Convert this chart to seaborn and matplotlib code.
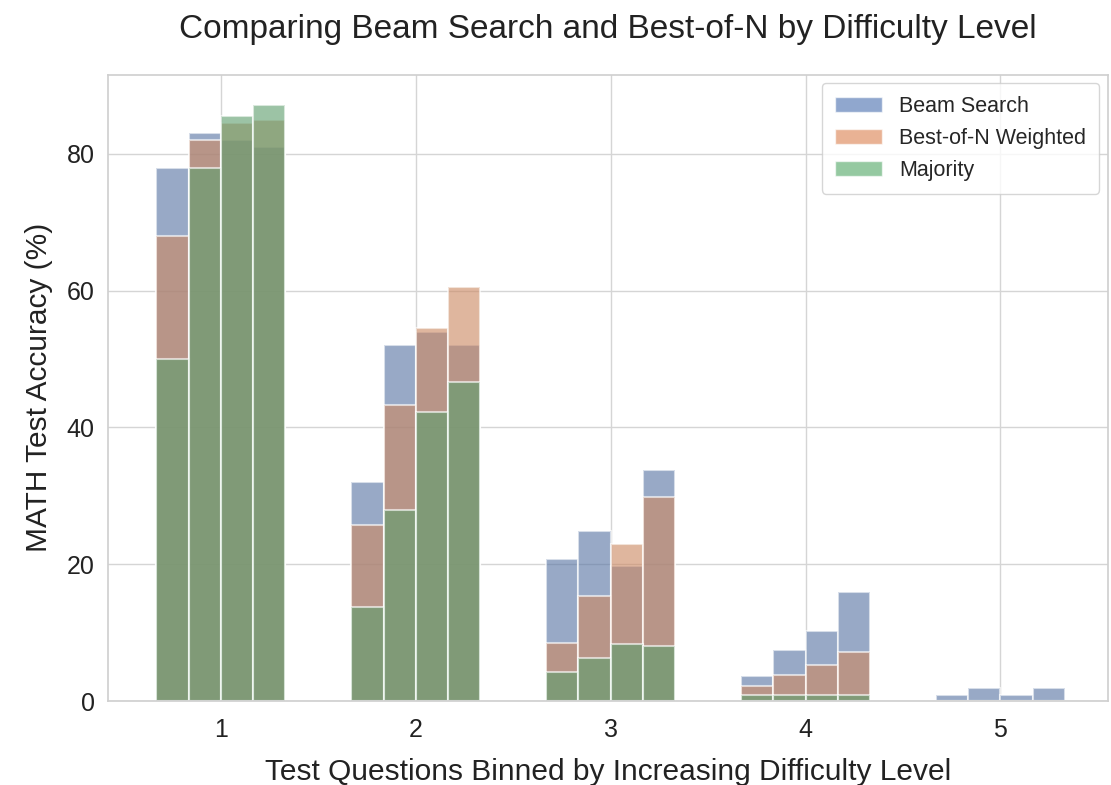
import matplotlib
matplotlib.use("Agg")
import matplotlib.pyplot as plt
import matplotlib.patches as mpatches
import seaborn as sns
import pandas as pd

levels = ["1", "2", "3", "4", "5"]
budgets = ["b1", "b2", "b3", "b4"]
methods = ["Beam Search", "Best-of-N Weighted", "Majority"]

beam_search = [
    [78.0, 83.0, 82.0, 81.0],
    [32.0, 52.0, 54.0, 52.0],
    [20.8, 24.8, 19.8, 33.8],
    [3.6, 7.4, 10.3, 16.0],
    [0.9, 1.9, 0.9, 1.9],
]
best_of_n = [
    [68.0, 82.0, 84.5, 85.0],
    [25.7, 43.3, 54.6, 60.6],
    [8.5, 15.4, 23.0, 29.9],
    [2.2, 3.8, 5.3, 7.2],
    [0.0, 0.0, 0.0, 0.0],
]
majority = [
    [50.0, 78.0, 85.5, 87.1],
    [13.7, 28.0, 42.2, 46.6],
    [4.3, 6.3, 8.3, 8.0],
    [0.9, 0.9, 0.9, 0.9],
    [0.0, 0.0, 0.0, 0.0],
]

colors = ["#4C72B0", "#DD8452", "#55A868"]
ALPHA = 0.62

rows = []
for m, vals in zip(methods, [beam_search, best_of_n, majority]):
    for li, lv in enumerate(levels):
        for bi, b in enumerate(budgets):
            rows.append({"method": m, "level": lv, "budget": b, "acc": vals[li][bi]})
df = pd.DataFrame(rows)

sns.set_theme(style="whitegrid")
plt.rcParams["font.family"] = ["Liberation Sans", "DejaVu Sans"]

fig, ax = plt.subplots(figsize=(11.11, 7.85), dpi=100)

for m, c in zip(methods, colors):
    sub = df[df["method"] == m]
    sns.barplot(data=sub, x="level", y="acc", hue="budget", order=levels,
                hue_order=budgets, palette=[c] * 4, alpha=ALPHA,
                edgecolor="white", linewidth=1.5, width=0.66,
                errorbar=None, legend=False, ax=ax)

ax.set_xlim(-0.58, 4.55)
ax.set_ylim(0, 91.6)
ax.set_yticks([0, 20, 40, 60, 80])
ax.tick_params(axis="both", labelsize=18, colors="#222222")
ax.tick_params(axis="x", pad=6)
ax.set_xlabel("Test Questions Binned by Increasing Difficulty Level", fontsize=21.5, labelpad=12, color="#222222")
ax.set_ylabel("MATH Test Accuracy (%)", fontsize=21.5, labelpad=10, color="#222222")
ax.set_title("Comparing Beam Search and Best-of-N by Difficulty Level", fontsize=24, pad=26, color="#222222")
ax.grid(True, axis="both", color="#d5d5d5", linewidth=1.0)
for s in ax.spines.values():
    s.set_color("#d0d0d0")

handles = [mpatches.Patch(facecolor=c, alpha=ALPHA, label=m) for m, c in zip(methods, colors)]
leg = ax.legend(handles=handles, loc="upper right", fontsize=15.5, frameon=True,
                handlelength=2.2, borderpad=0.6, borderaxespad=0.4)

fig.subplots_adjust(left=0.097, right=0.997, bottom=0.107, top=0.905)
fig.savefig("out.png", dpi=100)
